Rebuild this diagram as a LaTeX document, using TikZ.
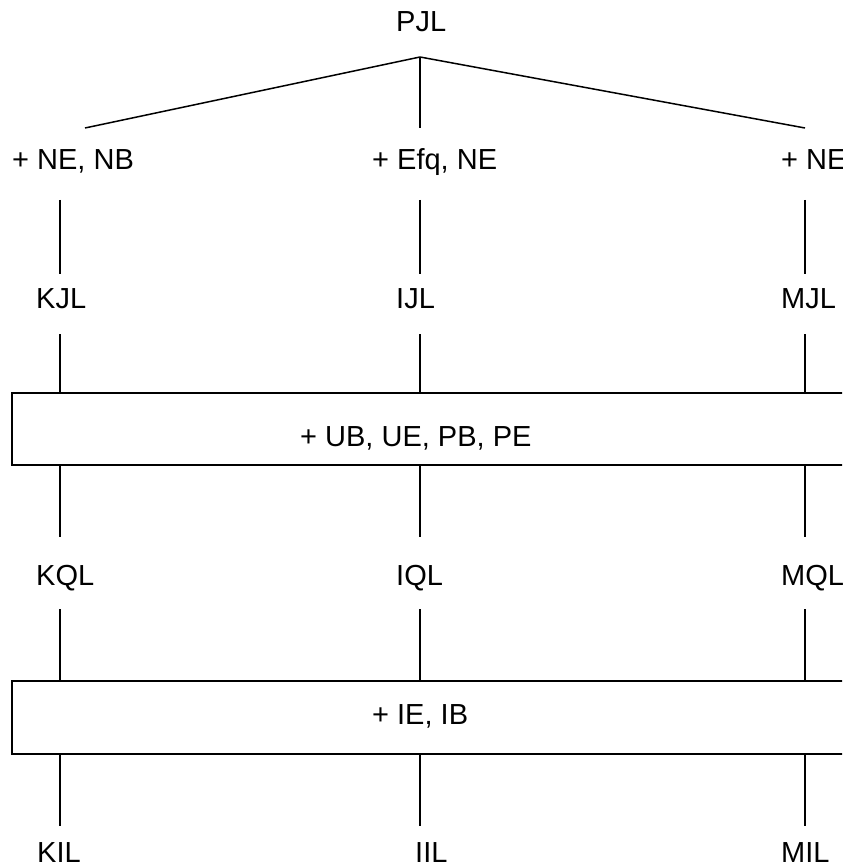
\documentclass[tikz,border=0pt]{standalone}
\usepackage{fontspec}
\setmainfont{Liberation Sans}
\begin{document}
\begin{tikzpicture}[x=1pt,y=-1pt,
  lbl/.style={anchor=base west,inner sep=0pt,font=\fontsize{29}{34}\selectfont},
  edge/.style={line width=1.5pt},
  rule/.style={draw,line width=1.5pt}]
\useasboundingbox (0,0) rectangle (842,866);
\clip (0,0) rectangle (842,866);

% root
\node[lbl] (pjl) at (396,31.5) {PJL};
\coordinate (apex) at (420,57);

% first extension row
\node[lbl] (ne1) at (12,169.5) {+ NE, NB};
\node[lbl] (ne2) at (372,169.5) {+ Efq, NE};
\node[lbl] (ne3) at (781,169.5) {+ NE};
\coordinate (t1) at (85,128);
\coordinate (t2) at (420,128);
\coordinate (t3) at (805,128);
\draw[edge] (apex) -- (t1);
\draw[edge] (apex) -- (t2);
\draw[edge] (apex) -- (t3);

% systems J
\node[lbl] (kjl) at (36,308.3) {KJL};
\node[lbl] (ijl) at (396,308.3) {IJL};
\node[lbl] (mjl) at (781,308.3) {MJL};

% box 1
\draw[rule] (12,393) rectangle (880,465);
\node[lbl] (box1) at (300,446.7) {+ UB, UE, PB, PE};

% systems Q
\node[lbl] (kql) at (36,585) {KQL};
\node[lbl] (iql) at (396,585) {IQL};
\node[lbl] (mql) at (781,585) {MQL};

% box 2
\draw[rule] (12,681) rectangle (880,754);
\node[lbl] (box2) at (372,724) {+ IE, IB};

% systems I
\node[lbl] (kil) at (37,862.5) {KIL};
\node[lbl] (iil) at (415,862.5) {IIL};
\node[lbl] (mil) at (781,862.5) {MIL};

% vertical connectors in each column
\foreach \cx in {60,420,805}{
  \draw[edge] (\cx,200) -- (\cx,274);
  \draw[edge] (\cx,334) -- (\cx,393);
  \draw[edge] (\cx,465) -- (\cx,537);
  \draw[edge] (\cx,609) -- (\cx,681);
  \draw[edge] (\cx,754) -- (\cx,826);
}
\end{tikzpicture}
\end{document}
